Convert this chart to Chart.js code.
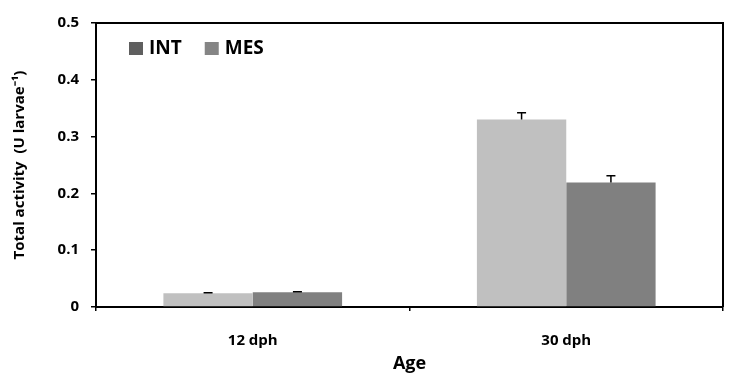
<!DOCTYPE html>
<html><head><meta charset="utf-8">
<script src="https://cdn.jsdelivr.net/npm/chart.js@4"></script>
<style>html,body{margin:0;padding:0;background:#fff}#wrap{width:738px;height:378px}</style>
</head><body><div id="wrap"><canvas id="c" width="738" height="378"></canvas></div>
<script>
const categories = ['12 dph', '30 dph'];
const seriesNames = ['INT', 'MES'];
const intValues = [0.024, 0.330];
const intErrors = [0.001, 0.012];
const mesValues = [0.026, 0.219];
const mesErrors = [0.001, 0.012];
const yTicks = [0, 0.1, 0.2, 0.3, 0.4, 0.5];
const barColors = ['#c0c0c0', '#808080'];
const legendColors = ['#5f5f5f', '#858585'];
const errorSets = [intErrors, mesErrors];
const FONT = '"Open Sans"';

const errorBars = {
  id: 'errorBars',
  afterDatasetsDraw(chart) {
    const ctx = chart.ctx, ys = chart.scales.y;
    ctx.save();
    ctx.strokeStyle = '#000';
    ctx.lineWidth = 1.5;
    chart.data.datasets.forEach((ds, i) => {
      const meta = chart.getDatasetMeta(i);
      meta.data.forEach((bar, j) => {
        const v = ds.data[j], e = errorSets[i][j];
        const yv = ys.getPixelForValue(v), yt = ys.getPixelForValue(v + e);
        ctx.beginPath();
        ctx.moveTo(bar.x, yv); ctx.lineTo(bar.x, yt);
        ctx.moveTo(bar.x - 4.5, yt); ctx.lineTo(bar.x + 4.5, yt);
        ctx.stroke();
      });
    });
    ctx.restore();
  }
};

const frame = {
  id: 'frame',
  afterDraw(chart) {
    const {ctx, chartArea: a} = chart;
    ctx.save();
    ctx.strokeStyle = '#000';
    ctx.lineWidth = 2;
    ctx.beginPath();
    ctx.moveTo(a.left, a.top); ctx.lineTo(a.right, a.top); ctx.lineTo(a.right, a.bottom);
    ctx.stroke();
    // legend
    ctx.font = 'bold 19px ' + FONT;
    ctx.textBaseline = 'middle';
    let x = a.left + 33;
    const y = a.top + 19;
    seriesNames.forEach((name, i) => {
      ctx.fillStyle = legendColors[i];
      ctx.fillRect(x, y, 14, 13);
      ctx.fillStyle = '#000';
      ctx.fillText(name, x + 20, y + 7);
      x += 20 + ctx.measureText(name).width + 23;
    });
    ctx.restore();
  }
};

new Chart(document.getElementById('c'), {
  type: 'bar',
  data: {
    labels: categories,
    datasets: [
      { label: seriesNames[0], data: intValues, backgroundColor: barColors[0], borderWidth: 0 },
      { label: seriesNames[1], data: mesValues, backgroundColor: barColors[1], borderWidth: 0 }
    ]
  },
  options: {
    responsive: false,
    animation: false,
    categoryPercentage: 0.57,
    barPercentage: 1.0,
    layout: { padding: { top: 23, right: 15, left: 0, bottom: 0 } },
    plugins: { legend: { display: false }, tooltip: { enabled: false } },
    scales: {
      y: {
        min: 0, max: 0.5,
        afterBuildTicks: s => { s.ticks = yTicks.map(v => ({ value: v })); },
        afterFit: s => { s.width = 96; },
        ticks: {
          color: '#000', padding: 12,
          font: { family: FONT, weight: 'bold', size: 15 },
          callback: v => v === 0 ? '0' : Number(v).toFixed(1)
        },
        grid: { drawOnChartArea: false, drawTicks: true, tickLength: 5, color: '#000', lineWidth: 1.5 },
        border: { display: true, color: '#000', width: 2 },
        title: {
          display: true, text: 'Total activity  (U larvae\u207B\u00B9)', color: '#000',
          font: { family: FONT, weight: 'bold', size: 15 },
          padding: { top: 11, bottom: 0 }
        }
      },
      x: {
        afterFit: s => { s.height = 71; },
        ticks: { color: '#000', padding: 21, font: { family: FONT, weight: 'bold', size: 15 } },
        grid: { offset: true, drawOnChartArea: false, drawTicks: true, tickLength: 4, color: '#000', lineWidth: 1.5 },
        border: { display: true, color: '#000', width: 2 },
        title: {
          display: true, text: 'Age', color: '#000',
          font: { family: FONT, weight: 'bold', size: 18 },
          padding: { top: 0, bottom: 3 }
        }
      }
    }
  },
  plugins: [errorBars, frame]
});
</script></body></html>
